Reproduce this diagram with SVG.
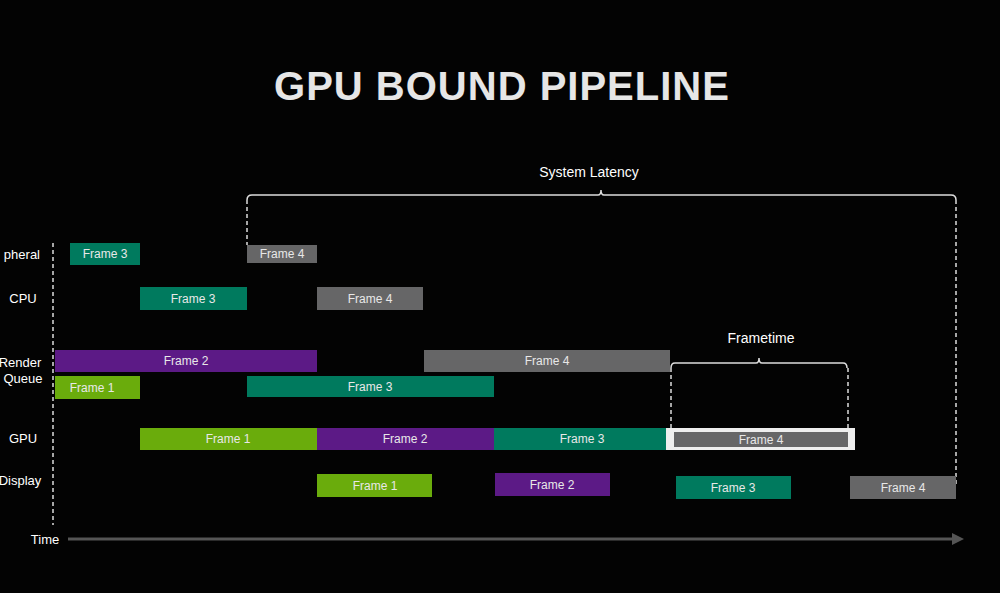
<svg xmlns="http://www.w3.org/2000/svg" width="1000" height="593" viewBox="0 0 1000 593">
<style>
text{font-family:"Liberation Sans",Arial,sans-serif;fill:#fff}
.l{font-size:13px;text-anchor:middle}
.f{font-size:12px;text-anchor:middle;fill:#e8e8e8}
.t{fill:#007a5e}.g{fill:#666667}.p{fill:#5c1a86}.y{fill:#6aac0c}
.d{stroke:#ddd;stroke-width:1.5;stroke-dasharray:4 3;fill:none}
.b{stroke:#ddd;stroke-width:1.5;fill:none}
</style>
<rect width="1000" height="593" fill="#030303"/>
<text x="502" y="100" style="font-size:40px;font-weight:bold;text-anchor:middle;fill:#e6e6e6;letter-spacing:1px">GPU BOUND PIPELINE</text>
<g id="labels">
<text x="40" y="259" style="font-size:13px;text-anchor:end">pheral</text>
<text x="23" y="303" class="l">CPU</text>
<text x="20" y="367" class="l">Render</text>
<text x="23" y="383" class="l">Queue</text>
<text x="23" y="443" class="l">GPU</text>
<text x="20" y="485" class="l">Display</text>
<text x="45" y="544" class="l">Time</text>
</g>
<g id="connectors">
<line x1="53" y1="243" x2="53" y2="525" class="d"/>
<line x1="68" y1="539" x2="952" y2="539" stroke="#555" stroke-width="3"/>
<path d="M952 533 L964 539 L952 545 Z" fill="#555"/>
<path d="M247 200 Q247 195 252 195 L598 195 Q601 195 601 190 Q601 195 604 195 L951 195 Q956 195 956 200" class="b"/>
<line x1="247" y1="200" x2="247" y2="245" class="d"/>
<line x1="956" y1="200" x2="956" y2="486" class="d"/>
<path d="M671 368 Q671 363 675 363 L756 363 Q759 363 759 358 Q759 363 762 363 L843 363 Q847 363 847 368" class="b"/>
<line x1="671" y1="368" x2="671" y2="428" class="d"/>
<line x1="848" y1="368" x2="848" y2="428" class="d"/>
<text x="589" y="177" class="l" style="font-size:14px">System Latency</text>
<text x="761" y="343" class="l" style="font-size:14px">Frametime</text>
</g>
<g id="peripheral">
<rect x="70" y="243" width="70" height="22" class="t"/><text x="105" y="258" class="f">Frame 3</text>
<rect x="247" y="245" width="70" height="18" class="g"/><text x="282" y="258" class="f">Frame 4</text>
</g>
<g id="cpu">
<rect x="140" y="287" width="107" height="23" class="t"/><text x="193" y="303" class="f">Frame 3</text>
<rect x="317" y="287" width="106" height="23" class="g"/><text x="370" y="303" class="f">Frame 4</text>
</g>
<g id="renderqueue">
<rect x="55" y="350" width="262" height="22" class="p"/><text x="186" y="365" class="f">Frame 2</text>
<rect x="424" y="350" width="246" height="22" class="g"/><text x="547" y="365" class="f">Frame 4</text>
<rect x="55" y="376" width="85" height="23" class="y"/><text x="92" y="392" class="f">Frame 1</text>
<rect x="247" y="376" width="247" height="21" class="t"/><text x="370" y="391" class="f">Frame 3</text>
</g>
<g id="gpu">
<rect x="140" y="428" width="177" height="22" class="y"/><text x="228" y="443" class="f">Frame 1</text>
<rect x="317" y="428" width="177" height="22" class="p"/><text x="405" y="443" class="f">Frame 2</text>
<rect x="494" y="428" width="172" height="22" class="t"/><text x="582" y="443" class="f">Frame 3</text>
<rect x="666" y="428" width="189" height="22" fill="#eee"/>
<rect x="674" y="432" width="174" height="15" class="g"/><text x="761" y="444" class="f">Frame 4</text>
</g>
<g id="display">
<rect x="317" y="474" width="115" height="23" class="y"/><text x="375" y="490" class="f">Frame 1</text>
<rect x="495" y="473" width="115" height="23" class="p"/><text x="552" y="489" class="f">Frame 2</text>
<rect x="676" y="476" width="115" height="23" class="t"/><text x="733" y="492" class="f">Frame 3</text>
<rect x="850" y="476" width="106" height="23" class="g"/><text x="903" y="492" class="f">Frame 4</text>
</g>
</svg>
